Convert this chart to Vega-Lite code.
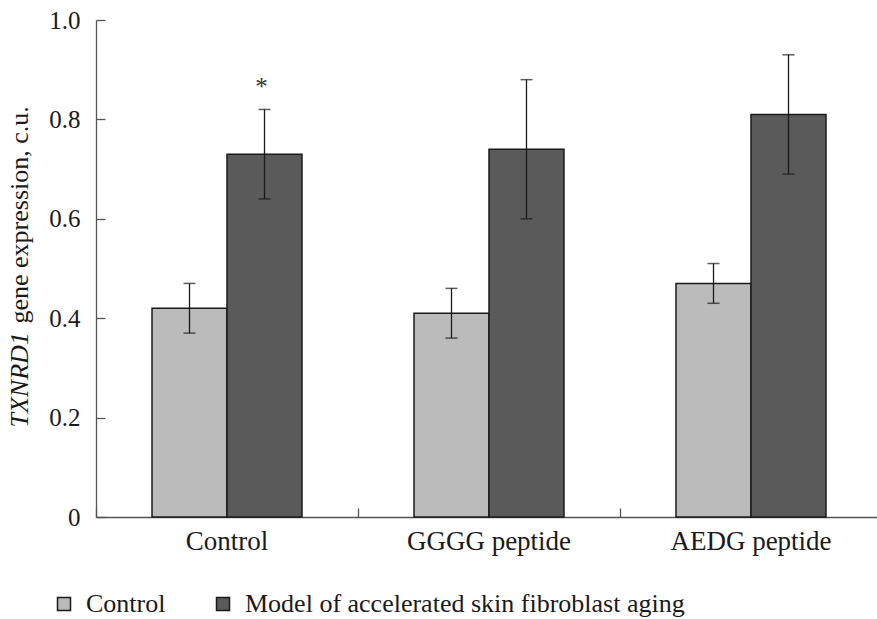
{
  "$schema": "https://vega.github.io/schema/vega-lite/v6.json",
  "width": 781,
  "height": 497,
  "autosize": {"type": "none"},
  "padding": {"left": 96, "top": 20, "right": 0, "bottom": 102},
  "background": "white",
  "config": {
    "view": {"stroke": null},
    "font": "Liberation Serif",
    "axis": {"grid": false, "labelFont": "Liberation Serif", "titleFont": "Liberation Serif"},
    "legend": {"labelFont": "Liberation Serif", "titleFont": "Liberation Serif"},
    "text": {"font": "Liberation Serif"}
  },
  "data": {
    "values": [
      {"group": "Control", "series": "Control", "value": 0.42, "lo": 0.37, "hi": 0.47, "sig": ""},
      {"group": "Control", "series": "Model of accelerated skin fibroblast aging", "value": 0.73, "lo": 0.64, "hi": 0.82, "sig": "*"},
      {"group": "GGGG peptide", "series": "Control", "value": 0.41, "lo": 0.36, "hi": 0.46, "sig": ""},
      {"group": "GGGG peptide", "series": "Model of accelerated skin fibroblast aging", "value": 0.74, "lo": 0.60, "hi": 0.88, "sig": ""},
      {"group": "AEDG peptide", "series": "Control", "value": 0.47, "lo": 0.43, "hi": 0.51, "sig": ""},
      {"group": "AEDG peptide", "series": "Model of accelerated skin fibroblast aging", "value": 0.81, "lo": 0.69, "hi": 0.93, "sig": ""}
    ]
  },
  "layer": [
    {
      "mark": {"type": "bar", "stroke": "#1a1a1a", "strokeWidth": 1.5},
      "encoding": {
        "x": {
          "field": "group", "type": "nominal",
          "sort": ["Control", "GGGG peptide", "AEDG peptide"],
          "scale": {"paddingInner": 0, "paddingOuter": 0, "range": [0, 786]},
          "axis": {
            "orient": "bottom", "title": null, "ticks": false, "labelAngle": 0,
            "labelFont": "Liberation Serif",
            "labelFontSize": 27, "labelColor": "#1a1a1a", "labelPadding": 11,
            "domainColor": "#555555", "domainWidth": 1.3
          }
        },
        "xOffset": {
          "field": "series", "type": "nominal",
          "sort": ["Control", "Model of accelerated skin fibroblast aging"],
          "scale": {"paddingInner": 0, "paddingOuter": 0.747}
        },
        "y": {
          "field": "value", "type": "quantitative",
          "scale": {"domain": [0, 1], "nice": false, "zero": true},
          "axis": {
            "orient": "left",
            "title": "gene expression, c.u.",
            "titleFont": "Liberation Serif",
            "titleAngle": 270, "titleAlign": "left", "titleBaseline": "alphabetic",
            "titleX": -69, "titleY": 303,
            "titleFontSize": 26, "titleFontWeight": "normal", "titleColor": "#1a1a1a",
            "values": [0, 0.2, 0.4, 0.6, 0.8, 1],
            "labelExpr": "datum.value == 0 ? '0' : format(datum.value, '.1f')",
            "labelFont": "Liberation Serif",
            "labelFontSize": 25, "labelColor": "#1a1a1a", "labelPadding": 25,
            "tickSize": -9, "tickColor": "#555555", "tickWidth": 1.3,
            "domainColor": "#555555", "domainWidth": 1.3
          }
        },
        "color": {
          "field": "series", "type": "nominal",
          "sort": ["Control", "Model of accelerated skin fibroblast aging"],
          "scale": {"domain": ["Control", "Model of accelerated skin fibroblast aging"], "range": ["#bbbbbb", "#5a5a5a"]},
          "legend": {
            "orient": "none", "direction": "horizontal", "legendX": -45, "legendY": 571,
            "title": null, "symbolType": "square", "symbolSize": 169,
            "symbolStrokeColor": "#1a1a1a", "symbolStrokeWidth": 1.5,
            "labelFontSize": 26, "labelFont": "Liberation Serif", "labelColor": "#1a1a1a",
            "labelOffset": 9, "columnPadding": 44, "labelLimit": 0
          }
        }
      }
    },
    {
      "mark": {"type": "rule", "color": "#1a1a1a", "strokeWidth": 1.3},
      "encoding": {
        "x": {
          "field": "group", "type": "nominal",
          "sort": ["Control", "GGGG peptide", "AEDG peptide"],
          "axis": {
            "orient": "bottom", "title": null, "bandPosition": 0, "labels": false,
            "domain": false, "tickSize": -9, "tickColor": "#555555", "tickWidth": 1.3
          }
        },
        "xOffset": {"field": "series", "type": "nominal", "sort": ["Control", "Model of accelerated skin fibroblast aging"]},
        "y": {
          "field": "lo", "type": "quantitative",
          "axis": {
            "orient": "left", "title": "TXNRD1", "titleFontStyle": "italic",
            "titleFont": "Liberation Serif",
            "titleAngle": 270, "titleAlign": "left", "titleBaseline": "alphabetic",
            "titleX": -69, "titleY": 407,
            "titleFontSize": 26, "titleFontWeight": "normal", "titleColor": "#1a1a1a",
            "labels": false, "ticks": false, "domain": false
          }
        },
        "y2": {"field": "hi"}
      }
    },
    {
      "mark": {"type": "tick", "color": "#1a1a1a", "size": 12, "thickness": 1.5},
      "encoding": {
        "x": {"field": "group", "type": "nominal", "sort": ["Control", "GGGG peptide", "AEDG peptide"], "axis": null},
        "xOffset": {"field": "series", "type": "nominal", "sort": ["Control", "Model of accelerated skin fibroblast aging"]},
        "y": {"field": "lo", "type": "quantitative", "axis": null}
      }
    },
    {
      "mark": {"type": "tick", "color": "#1a1a1a", "size": 12, "thickness": 1.5},
      "encoding": {
        "x": {"field": "group", "type": "nominal", "sort": ["Control", "GGGG peptide", "AEDG peptide"], "axis": null},
        "xOffset": {"field": "series", "type": "nominal", "sort": ["Control", "Model of accelerated skin fibroblast aging"]},
        "y": {"field": "hi", "type": "quantitative", "axis": null}
      }
    },
    {
      "transform": [{"filter": "datum.sig == '*'"}],
      "mark": {"type": "text", "font": "Liberation Serif", "fontSize": 25, "color": "#333333", "baseline": "middle", "dy": -22, "dx": -3},
      "encoding": {
        "x": {"field": "group", "type": "nominal", "sort": ["Control", "GGGG peptide", "AEDG peptide"], "axis": null},
        "xOffset": {"field": "series", "type": "nominal", "sort": ["Control", "Model of accelerated skin fibroblast aging"]},
        "y": {"field": "hi", "type": "quantitative", "axis": null},
        "text": {"field": "sig"}
      }
    }
  ],
  "resolve": {"axis": {"x": "independent", "y": "independent"}}
}
